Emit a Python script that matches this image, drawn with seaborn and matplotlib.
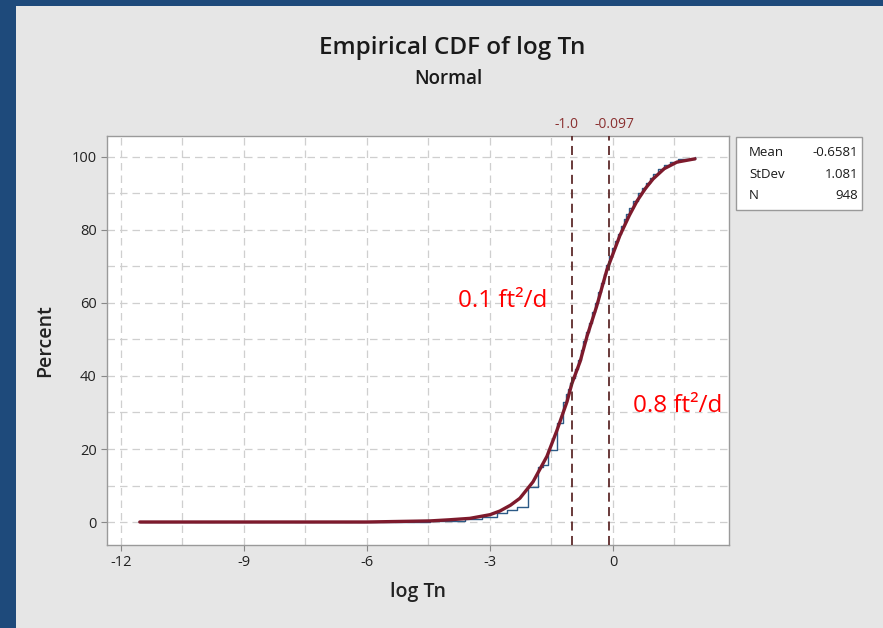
import matplotlib
matplotlib.use("Agg")
import matplotlib.pyplot as plt
from matplotlib.patches import Rectangle
from matplotlib.ticker import MultipleLocator
import seaborn as sns
import pandas as pd

# ---- data ----
fit_x = [-11.54, -6.0, -4.46, -4.0, -3.49, -3.0, -2.76, -2.5, -2.27, -1.95, -1.61,
         -1.37, -1.12, -1.0, -0.8, -0.63, -0.4, -0.15, 0.17, 0.4, 0.59, 0.8, 0.98,
         1.25, 1.56, 2.0]
fit_pct = [0, 0, 0.3, 0.6, 1.0, 2.0, 3.0, 4.6, 6.5, 11, 18, 25, 33, 38, 44, 51, 59,
           69, 78.5, 84, 88, 91.5, 94, 96.8, 98.6, 99.5]

ecdf_x = [-11.54, -4.46, -3.6, -3.2, -2.84, -2.59, -2.35, -2.07, -1.82, -1.70, -1.58,
          -1.37, -1.21, -1.15, -1.1, -1.05, -1.0, -0.93, -0.86, -0.79, -0.72, -0.65,
          -0.58, -0.51, -0.44, -0.37, -0.3, -0.23, -0.16, -0.09, -0.02, 0.05, 0.12,
          0.19, 0.26, 0.33, 0.4, 0.5, 0.6, 0.7, 0.8, 0.9, 0.98, 1.1, 1.25, 1.4, 1.58,
          2.0]
ecdf_pct = [0.1, 0.4, 0.8, 1.5, 2.5, 3.3, 4.2, 9.7, 15.2, 15.6, 19.7, 27, 33, 35,
            36.5, 38, 39.5, 42, 44.5, 47, 49.5, 52, 54.5, 57.5, 60, 63, 65.5, 68,
            70.5, 73, 75, 77, 79, 81, 83, 84.5, 86, 88, 90, 91.5, 93, 94.3, 95.3,
            96.6, 97.8, 98.6, 99.4, 100]

ref_x = [-1.0, -0.097]
ref_labels = ["-1.0", "-0.097"]

x_ticks = [-12, -9, -6, -3, 0]
y_ticks = [0, 20, 40, 60, 80, 100]

stats_names = ["Mean", "StDev", "N"]
stats_values = ["-0.6581", "1.081", "948"]

notes = ["0.1 ft\u00b2/d", "0.8 ft\u00b2/d"]

# ---- figure ----
sns.set_theme(style="white")
plt.rcParams["font.family"] = ["Open Sans", "DejaVu Sans"]

W, H = 883, 628
fig = plt.figure(figsize=(W / 100, H / 100), dpi=100)
fig.patch.set_facecolor("#1e4a7b")
fig.patches.append(Rectangle((16 / W, 0), 1 - 16 / W, 1 - 6 / H, transform=fig.transFigure,
                             facecolor="#e6e6e6", edgecolor="none", zorder=-10))

ax = fig.add_axes([107 / W, 1 - 545 / H, (729 - 107) / W, (545 - 136) / H])
ax.set_facecolor("white")

df_ecdf = pd.DataFrame({"x": ecdf_x, "pct": ecdf_pct})
df_fit = pd.DataFrame({"x": fit_x, "pct": fit_pct})

sns.lineplot(data=df_ecdf, x="x", y="pct", ax=ax, color="#2c5a86", lw=1.0,
             drawstyle="steps-post", estimator=None, sort=False, zorder=3)
sns.lineplot(data=df_fit, x="x", y="pct", ax=ax, color="#7d1a2c", lw=2.4,
             estimator=None, sort=False, zorder=4)

label_offsets = [-4, 4]
for rx, lab, off in zip(ref_x, ref_labels, label_offsets):
    ax.axvline(rx, color="#5e2b2b", lw=1.3, ls=(0, (5, 3)), zorder=5)
    ax.annotate(lab, xy=(rx, 1.0), xycoords=("data", "axes fraction"),
                xytext=(off, 3), textcoords="offset points",
                ha="center", va="bottom", fontsize=10, color="#8a3030")

ax.set_xlim(-12.34, 2.83)
ax.set_ylim(-6.3, 105.75)
ax.set_xticks(x_ticks)
ax.set_xticklabels([str(t) for t in x_ticks])
ax.set_yticks(y_ticks)
ax.xaxis.set_minor_locator(MultipleLocator(1.5))
ax.yaxis.set_minor_locator(MultipleLocator(10))
ax.grid(which="both", color="#cfcfcf", lw=0.9, ls=(0, (6, 4)))
ax.set_axisbelow(True)
ax.tick_params(which="major", direction="out", length=4, width=0.8, color="#888888",
               labelsize=10.5, labelcolor="#222222", bottom=True, left=True)
ax.tick_params(which="minor", length=0)
for sp in ax.spines.values():
    sp.set_color("#9a9a9a")
    sp.set_linewidth(1.0)

ax.set_xlabel("log Tn", fontsize=14, fontweight="semibold", color="#222222", labelpad=8)
ax.set_ylabel("Percent", fontsize=14, fontweight="semibold", color="#222222", labelpad=12)

fig.text(452 / W, 1 - 48 / H, "Empirical CDF of log Tn", ha="center", va="center",
         fontsize=17.5, fontweight="semibold", color="#1a1a1a")
fig.text(448 / W, 1 - 79 / H, "Normal", ha="center", va="center",
         fontsize=13.5, fontweight="semibold", color="#1a1a1a")

# stats box
fig.patches.append(Rectangle((736 / W, 1 - 210 / H), 126 / W, 73 / H, transform=fig.transFigure,
                             facecolor="white", edgecolor="#9a9a9a", lw=1.0, zorder=5))
for i, (n, v) in enumerate(zip(stats_names, stats_values)):
    yy = 1 - (153 + i * 21.5) / H
    fig.text(749 / W, yy, n, ha="left", va="center", fontsize=9.5, color="#1a1a1a", zorder=6)
    fig.text(858 / W, yy, v, ha="right", va="center", fontsize=9.5, color="#1a1a1a", zorder=6)

# red annotations
fig.text(503 / W, 1 - 301 / H, notes[0], ha="center", va="center", fontsize=17.5, color="#ff0000")
fig.text(678 / W, 1 - 406 / H, notes[1], ha="center", va="center", fontsize=17.5, color="#ff0000")

fig.savefig("out.png", dpi=100, facecolor=fig.get_facecolor())
